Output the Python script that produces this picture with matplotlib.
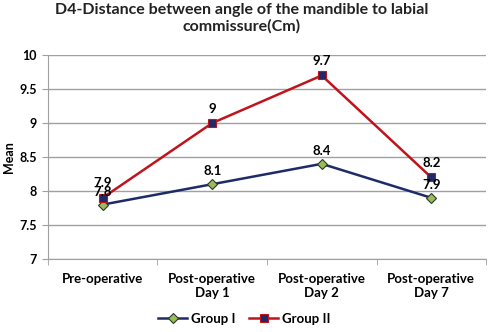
import matplotlib.pyplot as plt
import numpy as np

plt.rcParams['font.family'] = ['Lato', 'DejaVu Sans']

categories = ["Pre-operative", "Post-operative\nDay 1", "Post-operative\nDay 2", "Post-operative\nDay 7"]
group1 = [7.8, 8.1, 8.4, 7.9]
group2 = [7.9, 9.0, 9.7, 8.2]
label1 = ["7.8", "8.1", "8.4", "7.9"]
label2 = ["7.9", "9", "9.7", "8.2"]
yticks = [7, 7.5, 8, 8.5, 9, 9.5, 10]

fig = plt.figure(figsize=(4.89, 3.32), dpi=100)
ax = fig.add_axes([0.098, 0.22, 0.896, 0.614])

x = np.arange(len(categories))
ax.plot(x, group1, color='#1f2a68', lw=1.8, marker='D', ms=5,
        mfc='#9bbb59', mec='#2a3a2a', mew=0.8, label='Group I', zorder=3)
ax.plot(x, group2, color='#c0141c', lw=1.8, marker='s', ms=6,
        mfc='#1f2a68', mec='#c0141c', mew=0.8, label='Group II', zorder=3)

# data labels above the points
for xi, v, t in zip(x, group1, label1):
    ax.annotate(t, (xi, v), xytext=(0, 5), textcoords='offset points',
                ha='center', va='bottom', fontsize=9.5, fontweight='bold')
for xi, v, t in zip(x, group2, label2):
    ax.annotate(t, (xi, v), xytext=(0, 6), textcoords='offset points',
                ha='center', va='bottom', fontsize=9.5, fontweight='bold')

ax.set_xlim(-0.5, len(categories) - 0.5)
ax.set_ylim(7, 10)
ax.set_yticks(yticks)
ax.set_yticklabels(['7', '7.5', '8', '8.5', '9', '9.5', '10'], fontsize=9, fontweight='bold')
ax.set_xticks(x)
ax.set_xticklabels(categories, fontsize=9.5, fontweight='bold')
ax.set_xticks(np.arange(-0.5, len(categories)), minor=True)
ax.tick_params(axis='x', which='major', length=0, pad=10)
ax.tick_params(axis='x', which='minor', length=4, color='#a0a0a0')
ax.tick_params(axis='y', length=4, color='#a0a0a0', pad=4)

ax.grid(axis='y', color='#a0a0a0', lw=1)
ax.set_axisbelow(True)
for s in ['top', 'right']:
    ax.spines[s].set_visible(False)
ax.spines['left'].set_color('#a0a0a0')
ax.spines['bottom'].set_color('#a0a0a0')

ax.set_ylabel('Mean', fontsize=9, fontweight='bold', labelpad=3)
fig.suptitle('D4-Distance between angle of the mandible to labial\ncommissure(Cm)',
             x=0.495, y=0.99, fontsize=11.5, fontweight='bold', color='#222222', linespacing=1.15)

fig.legend(loc='lower center', bbox_to_anchor=(0.5, -0.015), ncol=2, frameon=False,
           prop={'weight': 'bold', 'size': 9.5}, handlelength=2.2,
           columnspacing=1.0, handletextpad=0.3)

fig.savefig('out.png', dpi=100)
